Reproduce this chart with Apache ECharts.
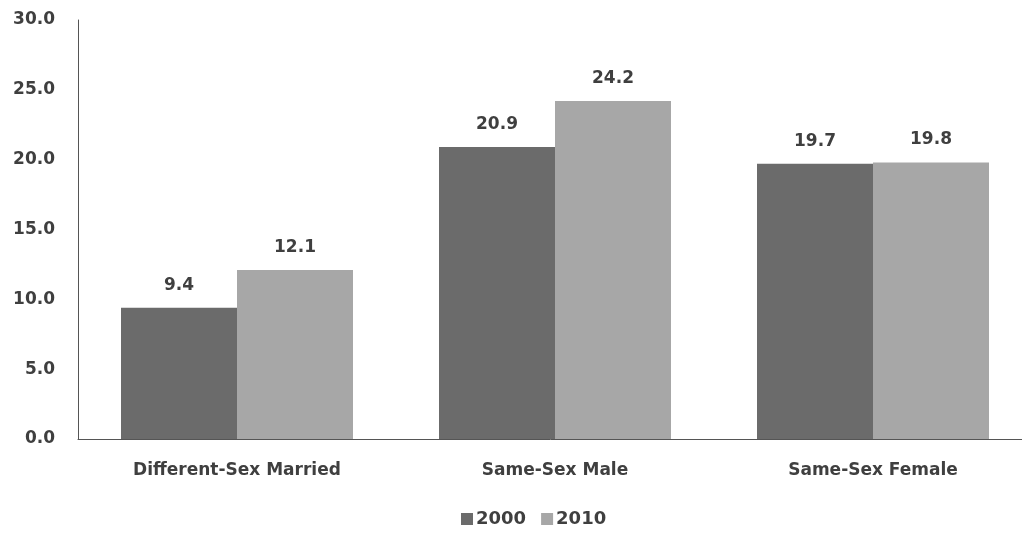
<!DOCTYPE html>
<html>
<head>
<meta charset="utf-8">
<script src="https://cdn.jsdelivr.net/npm/echarts@6/dist/echarts.min.js"></script>
<style>
  html, body { margin: 0; padding: 0; background: #ffffff; overflow: hidden; }
  #chart { width: 1022px; height: 536px; }
</style>
</head>
<body>
<div id="chart"></div>
<script>
// Household groups and the percentage reported for each census year
const categories = ['Different-Sex Married', 'Same-Sex Male', 'Same-Sex Female'];
const values2000 = [9.4, 20.9, 19.7];
const values2010 = [12.1, 24.2, 19.8];
const seriesNames = ['2000', '2010'];

const FONT = '"DejaVu Sans", "Open Sans", sans-serif';
const TEXT = '#3f3f3f';

const chart = echarts.init(document.getElementById('chart'));

function barSeries(name, data, color) {
  return {
    name: name,
    type: 'bar',
    data: data,
    barWidth: 116,
    barGap: '0%',
    itemStyle: { color: color },
    label: {
      show: true,
      position: 'top',
      distance: 14,
      color: TEXT,
      fontFamily: FONT,
      fontWeight: 'bold',
      fontSize: 17,
      formatter: p => p.value.toFixed(1)
    }
  };
}

chart.setOption({
  backgroundColor: '#ffffff',
  animation: false,
  // the plot area runs slightly past the right edge, as the axis line does
  grid: {
    left: 78, top: 20, width: 954, height: 419,
    containLabel: false,
    outerBoundsMode: 'none'
  },
  legend: {
    bottom: 3,
    left: 456,
    itemWidth: 12,
    itemHeight: 12,
    itemGap: 15,
    icon: 'rect',
    textStyle: { color: TEXT, fontFamily: FONT, fontWeight: 'bold', fontSize: 18, padding: [0, 0, 0, -2] },
    data: seriesNames
  },
  xAxis: {
    type: 'category',
    data: categories,
    axisLine: { lineStyle: { color: '#555555', width: 1 } },
    axisTick: { show: false },
    axisLabel: {
      color: TEXT,
      fontFamily: FONT,
      fontWeight: 'bold',
      fontSize: 17,
      margin: 23
    }
  },
  yAxis: {
    type: 'value',
    min: 0,
    max: 30,
    interval: 5,
    axisLine: { show: true, lineStyle: { color: '#555555', width: 1 } },
    axisTick: { show: false },
    splitLine: { show: false },
    axisLabel: {
      color: TEXT,
      fontFamily: FONT,
      fontWeight: 'bold',
      fontSize: 17,
      margin: 23,
      formatter: v => v.toFixed(1)
    }
  },
  series: [
    barSeries(seriesNames[0], values2000, '#6b6b6b'),
    barSeries(seriesNames[1], values2010, '#a7a7a7')
  ]
});
</script>
</body>
</html>
